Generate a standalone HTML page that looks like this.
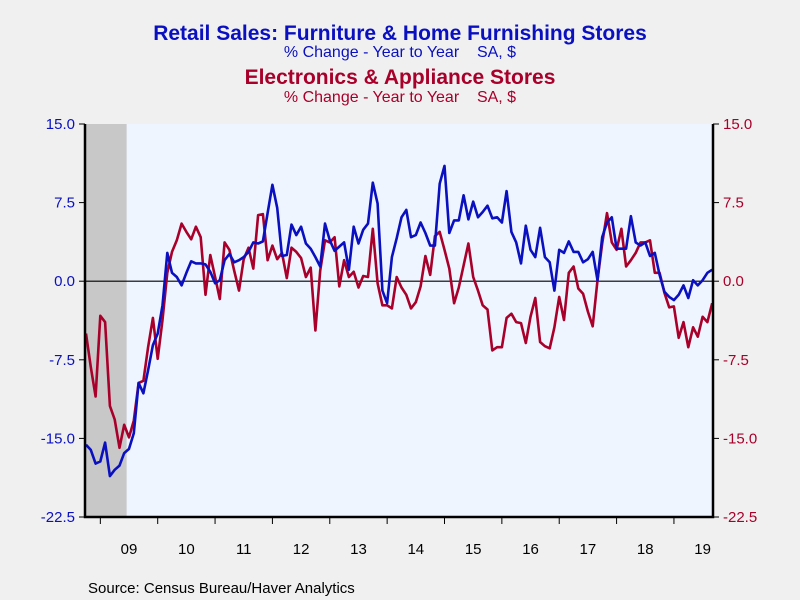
<!DOCTYPE html>
<html><head><meta charset="utf-8">
<style>
body{margin:0;background:#f0f0f0;}
svg{display:block;font-family:"Liberation Sans",Arial,sans-serif;}
</style></head>
<body>
<svg id="chart" width="800" height="600" viewBox="0 0 800 600">
<rect x="0" y="0" width="800" height="600" fill="#f0f0f0"/>
<text x="400" y="40" text-anchor="middle" font-size="21" font-weight="bold" fill="#0a10c0">Retail Sales: Furniture &amp; Home Furnishing Stores</text>
<text x="400" y="57" text-anchor="middle" font-size="16" fill="#0a10c0" xml:space="preserve">% Change - Year to Year    SA, $</text>
<text x="400" y="84" text-anchor="middle" font-size="21" font-weight="bold" fill="#a8002a">Electronics &amp; Appliance Stores</text>
<text x="400" y="102" text-anchor="middle" font-size="16" fill="#a8002a" xml:space="preserve">% Change - Year to Year    SA, $</text>
<g id="plot"></g>
<text x="88" y="593" font-size="15" fill="#000">Source:  Census Bureau/Haver Analytics</text>
</svg>
<script>
const yTicks = [15.0, 7.5, 0.0, -7.5, -15.0, -22.5];
const yearLabels = ["09","10","11","12","13","14","15","16","17","18","19"];
const furniture = [-15.6,-16.1,-17.4,-17.2,-15.4,-18.6,-18.0,-17.6,-16.4,-16.0,-14.5,-9.7,-10.7,-8.5,-6.1,-5.0,-2.3,2.7,0.8,0.4,-0.4,0.8,1.9,1.7,1.7,
1.6,0.9,-0.2,0.1,2.0,2.6,1.8,2.0,2.3,2.8,3.7,3.6,3.8,6.5,9.2,7.0,2.4,2.5,5.4,4.4,5.2,3.6,3.1,2.3,
1.4,5.5,3.9,2.9,3.3,3.7,1.1,5.2,3.6,4.9,5.5,9.4,7.4,-0.9,-2.1,2.3,4.1,6.1,6.8,4.2,4.4,5.6,4.6,
3.4,3.4,9.3,11.0,4.6,5.8,5.8,8.2,5.9,7.6,6.1,6.6,7.2,6.0,6.1,5.6,8.6,4.7,3.7,1.7,5.3,3.0,2.3,
5.1,2.3,1.8,-0.9,3.0,2.7,3.8,2.8,2.8,1.8,2.1,2.8,0.1,4.2,5.6,6.1,3.1,3.1,3.1,6.2,3.7,3.4,
3.7,2.4,2.7,0.6,-1.0,-1.5,-1.8,-1.3,-0.4,-1.6,0.1,-0.4,0.1,0.8,1.1];
const electronics = [-5.0,-8.2,-11.0,-3.3,-3.9,-11.9,-13.2,-15.9,-13.7,-14.9,-13.3,-9.7,-9.5,-6.3,-3.5,-7.4,-3.7,0.8,2.8,3.9,5.5,4.7,4.0,5.2,4.2,
-1.3,2.5,0.4,-1.7,3.7,3.0,1.0,-0.9,2.1,3.2,1.2,6.3,6.4,2.0,3.4,2.1,2.7,0.3,3.2,2.8,2.2,0.4,1.3,-4.7,
1.0,3.9,3.7,4.2,-0.5,2.0,0.4,0.9,-0.6,0.5,0.4,5.0,-0.2,-2.3,-2.3,-2.6,0.4,-0.6,-1.3,-2.6,-2.0,-0.5,2.4,
0.6,4.3,4.7,3.0,1.2,-2.1,-0.6,1.5,3.6,0.4,-0.9,-2.3,-2.7,-6.6,-6.3,-6.3,-3.5,-3.1,-3.9,-4.0,-5.9,-3.4,-1.6,
-5.8,-6.2,-6.4,-4.4,-1.5,-3.7,0.8,1.4,-0.7,-1.2,-2.9,-4.3,0.1,3.6,6.5,3.7,3.0,5.0,1.4,2.0,2.7,3.7,
3.7,3.9,0.8,0.8,-1.1,-2.5,-2.4,-5.4,-3.9,-6.3,-4.4,-5.3,-3.4,-3.9,-2.1];
const startYear = 2008, startMonth = 9; // Oct 2008 (0-based month)
const recessionEnd = 2009 + 5.5/12;

const NS = "http://www.w3.org/2000/svg";
const L = 85, R = 713, T = 124, B = 517;
const yMin = -22.5, yMax = 15;
const x0 = 86, pxPerMonth = 4.78;
function xt(t){ return x0 + (t - (startYear + startMonth/12)) * 12 * pxPerMonth; }
function xi(i){ return x0 + i * pxPerMonth; }
function yv(v){ return B - (v - yMin) / (yMax - yMin) * (B - T); }
const g = document.getElementById('plot');
function el(tag, attrs, parent){ const e = document.createElementNS(NS, tag); for (const k in attrs) e.setAttribute(k, attrs[k]); (parent||g).appendChild(e); return e; }

const bg = el('rect', {x:L, y:T, width:R-L, height:B-T, fill:'#eef5ff'});


const rec = el('rect', {x:L, y:T, width:xt(recessionEnd)-L, height:B-T, fill:'#c8c8c8'});


const zl = el('line', {x1:L, x2:R, y1:yv(0), y2:yv(0), stroke:'#000', 'stroke-width':1.2});



function series(data, color, name){
  const pts = data.map((v,i)=> xi(i).toFixed(1)+','+yv(v).toFixed(1)).join(' ');
  const p = el('polyline', {points:pts, fill:'none', stroke:color, 'stroke-width':2.6, 'stroke-linejoin':'round'});
  
  
}
series(electronics, '#a8002a', 'electronics-line');
series(furniture, '#0a10c0', 'furniture-line');

const frame = el('path', {d:`M${L},${T} L${L},${B} L${R},${B} L${R},${T}`, fill:'none', stroke:'#000', 'stroke-width':2.5});



yTicks.forEach(v=>{
  const y = yv(v);
  const t1 = el('line', {x1:L-6, x2:L, y1:y, y2:y, stroke:'#000', 'stroke-width':1});
  
  
  const t2 = el('line', {x1:R, x2:R+6, y1:y, y2:y, stroke:'#000', 'stroke-width':1});
  
  
  const a = el('text', {x:L-10, y:y+5, 'text-anchor':'end', 'font-size':15, fill:'#0a10c0'});
  a.textContent = v.toFixed(1);
  
  
  const b = el('text', {x:R+10, y:y+5, 'text-anchor':'start', 'font-size':15, fill:'#a8002a'});
  b.textContent = v.toFixed(1);
  
  
});
yearLabels.forEach((lab, k)=>{
  const yr = 2009 + k;
  const xt0 = xt(yr);
  const tk = el('line', {x1:xt0, x2:xt0, y1:B, y2:B+7, stroke:'#000', 'stroke-width':1});
  
  
  const t = el('text', {x:xt(yr+0.5), y:554, 'text-anchor':'middle', 'font-size':15, fill:'#000'});
  t.textContent = lab;
  
  
});
</script>
</body></html>
